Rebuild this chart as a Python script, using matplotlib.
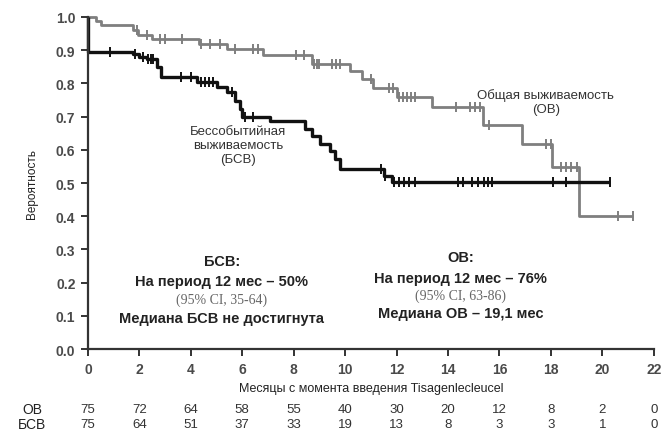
import numpy as np
import matplotlib
matplotlib.use("Agg")
import matplotlib.pyplot as plt
from matplotlib.transforms import blended_transform_factory

plt.rcParams["font.family"] = ["Liberation Sans", "DejaVu Sans"]

# Kaplan-Meier steps: (month, survival after the step)
os_times = [0.0, 0.3, 0.5, 1.75, 1.95, 2.5, 4.3, 5.4, 6.8, 8.7, 10.2, 10.66, 11.09,
            12.02, 13.39, 15.37, 16.89, 18.05, 19.1]
os_surv = [1.0, 0.987, 0.975, 0.96, 0.947, 0.934, 0.918, 0.904, 0.885, 0.858, 0.837,
           0.813, 0.786, 0.759, 0.729, 0.675, 0.617, 0.548, 0.40]
os_end = 21.2
os_censor = [1.9, 2.3, 2.8, 3.0, 3.66, 4.4, 4.75, 5.15, 5.7, 6.4, 6.6, 8.1, 8.4, 8.8,
             8.9, 9.0, 9.5, 9.65, 9.8, 11.0, 11.7, 11.85, 12.1, 12.25, 12.4, 12.55,
             12.7, 14.3, 14.85, 15.05, 15.25, 15.6, 17.8, 18.0, 18.4, 18.6, 18.8, 19.0,
             20.6, 21.2]

efs_times = [0.0, 0.02, 1.75, 2.0, 2.3, 2.7, 2.85, 4.24, 5.0, 5.4, 5.7, 5.9, 6.0,
             7.08, 8.44, 8.72, 9.03, 9.42, 9.61, 9.81, 11.5, 11.83]
efs_surv = [1.0, 0.896, 0.888, 0.88, 0.873, 0.85, 0.818, 0.804, 0.79, 0.774, 0.747,
            0.723, 0.70, 0.686, 0.663, 0.642, 0.617, 0.596, 0.572, 0.542, 0.52, 0.503]
efs_end = 20.3
efs_censor = [0.86, 1.83, 2.15, 2.35, 2.45, 2.55, 3.6, 4.0, 4.4, 4.55, 4.7, 4.85,
              5.6, 6.1, 6.4, 11.4, 11.55, 11.9, 12.1, 12.3, 12.5, 12.7, 14.4, 14.6,
              14.95, 15.15, 15.4, 15.55, 15.7, 18.1, 18.6, 20.3]

risk_months = [0, 2, 4, 6, 8, 10, 12, 14, 16, 18, 20, 22]
risk_os = [75, 72, 64, 58, 55, 40, 30, 20, 12, 8, 2, 0]
risk_efs = [75, 64, 51, 37, 33, 19, 13, 8, 3, 3, 1, 0]

OS_COLOR = "#7f7f7f"
EFS_COLOR = "#111111"
TEXT = "#222222"


def km_curve(ax, times, surv, end, censor, color, lw):
    t = np.append(times, end)
    s = np.append(surv, surv[-1])
    ax.step(t, s, where="post", color=color, linewidth=lw, solid_capstyle="butt")
    idx = np.searchsorted(times, censor, side="right") - 1
    ax.plot(censor, np.asarray(surv)[idx], linestyle="none", marker="|",
            markersize=7.5, markeredgewidth=1.4, color=color)


fig = plt.figure(figsize=(6.61, 4.39), dpi=100)
ax = fig.add_axes([0.133, 0.2027, 0.856, 0.7563])

km_curve(ax, os_times, os_surv, os_end, os_censor, OS_COLOR, 2.0)
km_curve(ax, efs_times, efs_surv, efs_end, efs_censor, EFS_COLOR, 2.4)

ax.set_xlim(0, 22)
ax.set_ylim(0, 1.0)
ax.set_xticks(range(0, 23, 2))
ax.set_yticks(np.arange(0, 1.01, 0.1))
ax.yaxis.set_major_formatter(plt.FuncFormatter(lambda v, _: f"{v:.1f}"))
for line in ax.lines:
    line.set_clip_on(False)

for side in ("top", "right"):
    ax.spines[side].set_visible(False)
for side in ("left", "bottom"):
    ax.spines[side].set_linewidth(1.6)
    ax.spines[side].set_color("#333333")
ax.tick_params(direction="out", length=5, width=1.4, colors="#333333",
               labelsize=10, labelcolor="#4a4a4a", pad=4)
for lab in ax.get_xticklabels() + ax.get_yticklabels():
    lab.set_fontweight("bold")

ax.set_ylabel("Вероятность", fontsize=8.5, color=TEXT, labelpad=13)
ax.set_xlabel("Месяцы с момента введения Tisagenlecleucel", fontsize=9,
              color=TEXT, labelpad=5)

ax.text(5.85, 0.615, "Бессобытийная\nвыживаемость\n(БСВ)", ha="center", va="center",
        fontsize=9.5, color="#333333", linespacing=1.25)
ax.text(17.8, 0.745, "Общая выживаемость\n(ОВ)", ha="center", va="center",
        fontsize=9.5, color="#333333", linespacing=1.15)

# summary blocks
ax.text(5.2, 0.265, "БСВ:", ha="center", va="center", fontsize=10.5,
        fontweight="bold", color=TEXT)
ax.text(5.2, 0.205, "На период 12 мес – 50%", ha="center", va="center",
        fontsize=10.5, fontweight="bold", color=TEXT)
ax.text(5.2, 0.15, "(95% CI, 35-64)", ha="center", va="center", fontsize=10,
        family="Liberation Serif", color="#666666")
ax.text(5.2, 0.092, "Медиана БСВ не достигнута", ha="center", va="center",
        fontsize=10.5, fontweight="bold", color=TEXT)

ax.text(14.5, 0.278, "ОВ:", ha="center", va="center", fontsize=10.5,
        fontweight="bold", color=TEXT)
ax.text(14.5, 0.215, "На период 12 мес – 76%", ha="center", va="center",
        fontsize=10.5, fontweight="bold", color=TEXT)
ax.text(14.5, 0.163, "(95% CI, 63-86)", ha="center", va="center", fontsize=10,
        family="Liberation Serif", color="#666666")
ax.text(14.5, 0.108, "Медиана ОВ – 19,1 мес", ha="center", va="center",
        fontsize=10.5, fontweight="bold", color=TEXT)

# numbers at risk
tr = blended_transform_factory(ax.transData, fig.transFigure)
for m, a, b in zip(risk_months, risk_os, risk_efs):
    ax.text(m, 1 - 410 / 439, str(a), transform=tr, ha="center", va="center",
            fontsize=9.5, color="#333333")
    ax.text(m, 1 - 425 / 439, str(b), transform=tr, ha="center", va="center",
            fontsize=9.5, color="#333333")
fig.text(32 / 661, 1 - 410 / 439, "ОВ", ha="center", va="center", fontsize=10,
         color=TEXT)
fig.text(32 / 661, 1 - 425 / 439, "БСВ", ha="center", va="center", fontsize=10,
         color=TEXT)

fig.savefig("out.png", dpi=100)
